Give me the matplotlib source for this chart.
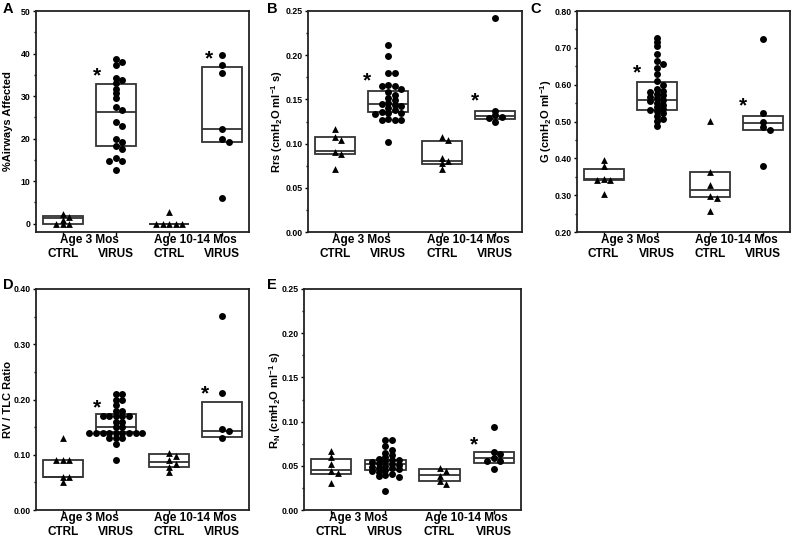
import numpy as np
import matplotlib
matplotlib.use("Agg")
import matplotlib.pyplot as plt
from matplotlib.ticker import MultipleLocator, FormatStrFormatter

plt.rcParams["font.family"] = ["Liberation Sans", "DejaVu Sans"]
plt.rcParams["font.weight"] = "bold"
plt.rcParams["mathtext.fontset"] = "custom"
plt.rcParams["mathtext.rm"] = "Liberation Sans:bold"
plt.rcParams["mathtext.bf"] = "Liberation Sans:bold"
plt.rcParams["mathtext.it"] = "Liberation Sans:bold:italic"
plt.rcParams["mathtext.default"] = "rm"

# ---------------- data ----------------
groups = ["CTRL", "VIRUS", "CTRL", "VIRUS"]
ages = ["Age 3 Mos", "Age 10-14 Mos"]
markers = ["^", "o", "^", "o"]

# Panel A: %Airways Affected
a_ctrl3 = [0, 0, 0, 0.9, 1.6, 2.3]
a_virus3 = [38.8, 38.0, 37.2, 34.3, 33.7, 33.0, 31.7, 30.6, 29.6, 27.4, 26.6,
            23.8, 23.0, 20.0, 19.2, 18.3, 17.6, 15.4, 14.6, 14.6, 12.5]
a_ctrl10 = [0, 0, 0, 0, 0, 2.8]
a_virus10 = [39.7, 37.3, 35.4, 22.3, 19.8, 19.1, 6.0]
a_q1 = [0.0, 18.3, 0.0, 19.2]
a_med = [1.2, 26.3, 0.0, 22.2]
a_q3 = [1.8, 32.8, 0.0, 36.8]
a_star = [34.7, 38.7]

# Panel B: Rrs
b_ctrl3 = [0.117, 0.108, 0.104, 0.090, 0.088, 0.071]
b_virus3 = [0.212, 0.199, 0.180, 0.180, 0.166, 0.165, 0.165, 0.162, 0.158, 0.155,
            0.152, 0.149, 0.146, 0.145, 0.144, 0.142, 0.140, 0.138, 0.136, 0.135,
            0.135, 0.134, 0.128, 0.127, 0.127, 0.127, 0.102]
b_ctrl10 = [0.108, 0.104, 0.084, 0.080, 0.078, 0.071]
b_virus10 = [0.242, 0.137, 0.132, 0.130, 0.129, 0.124]
b_q1 = [0.0885, 0.136, 0.077, 0.128]
b_med = [0.092, 0.145, 0.0805, 0.1315]
b_q3 = [0.108, 0.160, 0.103, 0.137]
b_star = [0.171, 0.148]

# Panel C: G
c_ctrl3 = [0.395, 0.378, 0.345, 0.342, 0.340, 0.302]
c_virus3 = [0.726, 0.716, 0.706, 0.683, 0.664, 0.655, 0.645, 0.628, 0.609, 0.600,
            0.588, 0.582, 0.580, 0.575, 0.572, 0.567, 0.563, 0.558, 0.555, 0.550,
            0.546, 0.540, 0.535, 0.531, 0.528, 0.522, 0.515, 0.508, 0.502, 0.487]
c_ctrl10 = [0.502, 0.364, 0.328, 0.297, 0.292, 0.258]
c_virus10 = [0.724, 0.522, 0.500, 0.485, 0.476, 0.378]
c_q1 = [0.340, 0.530, 0.294, 0.476]
c_med = [0.343, 0.559, 0.313, 0.495]
c_q3 = [0.371, 0.606, 0.364, 0.516]
c_star = [0.633, 0.542]

# Panel D: RV / TLC
d_ctrl3 = [0.13, 0.09, 0.09, 0.09, 0.06, 0.06, 0.05]
d_virus3 = ([0.21] * 2 + [0.20] * 2 + [0.19] * 1 + [0.18] * 2 + [0.17] * 5 +
            [0.16] * 2 + [0.15] * 2 + [0.14] * 9 + [0.13] * 3 + [0.12] * 1 + [0.09])
d_ctrl10 = [0.103, 0.098, 0.090, 0.084, 0.078, 0.069]
d_virus10 = [0.352, 0.211, 0.147, 0.143, 0.130]
d_q1 = [0.060, 0.141, 0.078, 0.1325]
d_med = [0.060, 0.150, 0.087, 0.143]
d_q3 = [0.090, 0.173, 0.1006, 0.195]
d_star = [0.185, 0.210]

# Panel E: RN
e_ctrl3 = [0.067, 0.060, 0.052, 0.044, 0.042, 0.030]
e_virus3 = [0.079, 0.079, 0.072, 0.068, 0.065, 0.062, 0.060, 0.058, 0.057, 0.056,
            0.055, 0.054, 0.053, 0.052, 0.051, 0.050, 0.049, 0.048, 0.047, 0.046,
            0.045, 0.044, 0.043, 0.041, 0.040, 0.038, 0.037, 0.022]
e_ctrl10 = [0.047, 0.044, 0.038, 0.033, 0.029]
e_virus10 = [0.094, 0.066, 0.063, 0.059, 0.055, 0.055, 0.046]
e_q1 = [0.041, 0.0448, 0.033, 0.0535]
e_med = [0.045, 0.0516, 0.040, 0.059]
e_q3 = [0.058, 0.057, 0.046, 0.0655]
e_star = [0.074]

positions = [1, 3, 5, 7]
box_width = 1.5
fig = plt.figure(figsize=(7.93, 5.38), dpi=100)


def add_ax(l, r, t, b):
    return fig.add_axes([l / 793, 1 - b / 538, (r - l) / 793, (b - t) / 538])


def swarm(vals, ylim, ax_w_px, ax_h_px, d=6.6, dy_tol=3.6):
    yr = ylim[1] - ylim[0]
    ypx = [(v - ylim[0]) / yr * ax_h_px for v in vals]
    placed = []
    offs = []
    cands = [0]
    for i in range(1, 20):
        cands += [i * d, -i * d]
    for y in ypx:
        for c in cands:
            if all(abs(c - px) >= d * 0.98 or abs(y - py) >= dy_tol
                   for px, py in placed):
                break
        placed.append((c, y))
        offs.append(c * 8.0 / ax_w_px)
    return offs


def panel(rect, data, q1, med, q3, ylim, major, minor, fmt, ylabel, ylabel_x,
          letter, letter_xy, star_x, star_y):
    l, r, t, b = rect
    ax = add_ax(l, r, t, b)
    ax.set_xlim(0, 8)
    ax.set_ylim(*ylim)
    for s in ax.spines.values():
        s.set_linewidth(1.3)
        s.set_color("#222222")
    # boxes
    ax.bar(positions, np.array(q3) - np.array(q1), bottom=q1, width=box_width,
           fill=False, edgecolor="#333333", linewidth=1.3, zorder=2)
    for p, m in zip(positions, med):
        ax.hlines(m, p - box_width / 2, p + box_width / 2, color="#333333",
                  linewidth=1.3, zorder=2)
    # points
    for p, vals, mk in zip(positions, data, markers):
        offs = swarm(vals, ylim, r - l, b - t)
        ax.scatter(np.array(offs) + p, vals, marker=mk, s=25 if mk == "o" else 24,
                   color="black", linewidths=0, zorder=3)
    # stars
    for sx, sy in zip(star_x, star_y):
        ax.text(sx, sy, "*", fontsize=15, ha="center", va="center",
                fontweight="bold")
    ax.yaxis.set_major_locator(MultipleLocator(major))
    ax.yaxis.set_minor_locator(MultipleLocator(minor))
    ax.yaxis.set_major_formatter(FormatStrFormatter(fmt))
    ax.tick_params(axis="y", which="major", labelsize=6.3, length=2.5, width=1,
                   pad=1.5)
    ax.tick_params(axis="y", which="minor", length=1.8, width=1)
    ax.set_xticks(positions)
    ax.set_xticklabels([])
    ax.tick_params(axis="x", length=3, width=1)
    for lab in ax.get_yticklabels():
        lab.set_fontweight("bold")
    ax.set_ylabel(ylabel, fontsize=8, fontweight="bold", va="center")
    ax.yaxis.set_label_coords(-(l - ylabel_x) / (r - l), 0.5)
    # two-row x labels
    for i, age in enumerate(ages):
        cx = (positions[2 * i] + positions[2 * i + 1]) / 2
        ax.annotate(age, xy=(cx, 0), xycoords=("data", "axes fraction"),
                    xytext=(0, -5.5), textcoords="offset points", ha="center",
                    va="center", fontsize=8.5, fontweight="bold")
    for p, g in zip(positions, groups):
        ax.annotate(g, xy=(p, 0), xycoords=("data", "axes fraction"),
                    xytext=(0, -16), textcoords="offset points", ha="center",
                    va="center", fontsize=8.5, fontweight="bold")
    fig.text(letter_xy[0] / 793, 1 - letter_xy[1] / 538, letter, fontsize=10.5,
             fontweight="bold", ha="left", va="top")
    return ax


panel((36, 249, 11, 232), [a_ctrl3, a_virus3, a_ctrl10, a_virus10],
      a_q1, a_med, a_q3, (-2, 50), 10, 5, "%d", "%Airways Affected", 8,
      "A", (3, 2), [2.3, 6.5], a_star)
panel((308, 522, 11, 232), [b_ctrl3, b_virus3, b_ctrl10, b_virus10],
      b_q1, b_med, b_q3, (0, 0.25), 0.05, 0.025, "%.2f",
      r"Rrs (cmH$_2$O ml$^{-1}$ s)", 277, "B", (267, 2), [2.2, 6.25], b_star)
panel((577, 790, 11, 232), [c_ctrl3, c_virus3, c_ctrl10, c_virus10],
      c_q1, c_med, c_q3, (0.2, 0.8), 0.1, 0.05, "%.2f",
      r"G (cmH$_2$O ml$^{-1}$)", 546, "C", (530, 2), [2.25, 6.25], c_star)
panel((36, 249, 289, 510), [d_ctrl3, d_virus3, d_ctrl10, d_virus10],
      d_q1, d_med, d_q3, (0, 0.40), 0.1, 0.05, "%.2f",
      "RV / TLC Ratio", 8, "D", (3, 278), [2.3, 6.35], d_star)
panel((304, 521, 289, 510), [e_ctrl3, e_virus3, e_ctrl10, e_virus10],
      e_q1, e_med, e_q3, (0, 0.25), 0.05, 0.025, "%.2f",
      r"R$_N$ (cmH$_2$O ml$^{-1}$ s)", 275, "E", (267, 278), [6.25], e_star)

fig.savefig("out.png", dpi=100)
